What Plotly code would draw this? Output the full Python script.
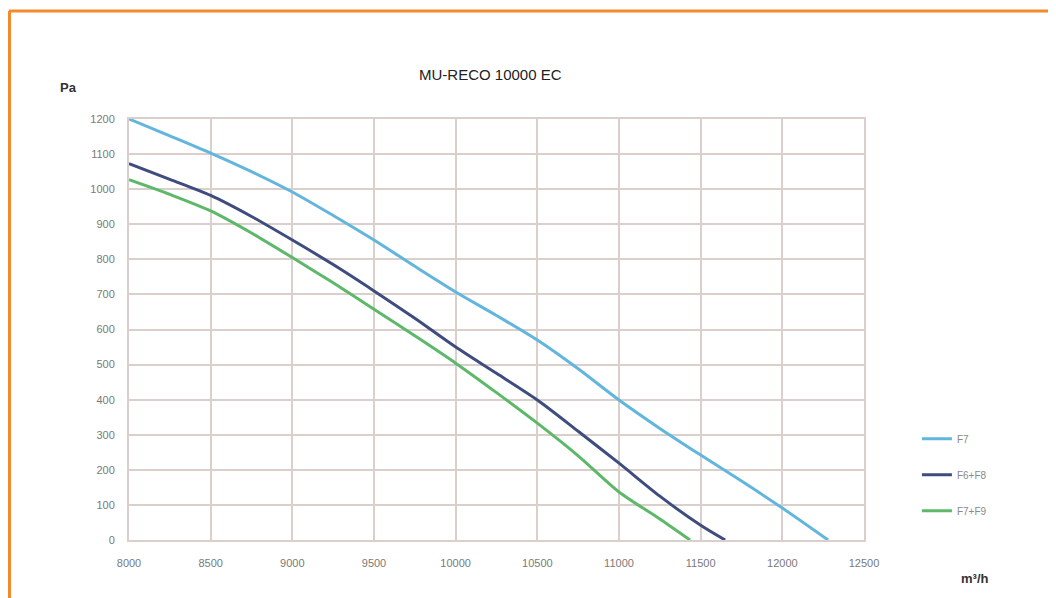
import plotly.graph_objects as go

# Data (airflow m³/h vs pressure Pa)
x_f7 = [8000, 8250, 8500, 8750, 9000, 9250, 9500, 9750, 10000, 10250, 10500, 10750, 11000, 11250, 11500, 11750, 12000, 12280]
y_f7 = [1200, 1152, 1103, 1050, 992, 925, 855, 780, 707, 640, 570, 488, 399, 318, 242, 168, 91, 0]

x_f6f8 = [8000, 8250, 8500, 8750, 9000, 9250, 9500, 9750, 10000, 10250, 10500, 10750, 11000, 11250, 11500, 11650]
y_f6f8 = [1073, 1028, 982, 922, 855, 785, 710, 632, 550, 475, 399, 310, 219, 125, 42, 0]

x_f7f9 = [8000, 8250, 8500, 8750, 9000, 9250, 9500, 9750, 10000, 10250, 10500, 10750, 11000, 11250, 11435]
y_f7f9 = [1027, 985, 938, 875, 805, 733, 658, 582, 504, 420, 333, 240, 137, 60, 0]

series_names = ["F7", "F6+F8", "F7+F9"]
x_ticks = [8000, 8500, 9000, 9500, 10000, 10500, 11000, 11500, 12000, 12500]
y_ticks = [0, 100, 200, 300, 400, 500, 600, 700, 800, 900, 1000, 1100, 1200]

colors = ["#62b6dd", "#3e4d7e", "#5db86a"]

fig = go.Figure()
for i, (xs, ys) in enumerate([(x_f7, y_f7), (x_f6f8, y_f6f8), (x_f7f9, y_f7f9)]):
    fig.add_trace(go.Scatter(
        x=xs, y=ys, mode="lines", name=series_names[i],
        line=dict(color=colors[i], width=3, shape="spline", smoothing=0.8),
        legendgroup=series_names[i],
    ))

grid_color = "#dbcfcb"
fig.update_layout(
    width=1056, height=598,
    margin=dict(l=121, r=200, t=111, b=66),
    paper_bgcolor="white", plot_bgcolor="white",
    font=dict(family="Liberation Sans, Arial, sans-serif", color="#7a7a7a", size=11),
    showlegend=True,
    legend=dict(
        x=1.072, y=0.275, xanchor="left", yanchor="top",
        font=dict(size=10, color="#8a8a8a"),
        tracegroupgap=17, itemwidth=30,
        bgcolor="rgba(0,0,0,0)",
    ),
    xaxis=dict(
        range=[8000, 12500], tickvals=x_ticks, ticktext=[str(v) for v in x_ticks],
        showgrid=True, gridcolor=grid_color, gridwidth=2,
        showline=True, linecolor=grid_color, linewidth=2, mirror=True,
        zeroline=False, ticks="", ticklabelstandoff=12,
        tickfont=dict(size=11, color="#7a7a7a"),
    ),
    yaxis=dict(
        range=[0, 1200], tickvals=y_ticks, ticktext=[str(v) for v in y_ticks],
        showgrid=True, gridcolor=grid_color, gridwidth=2,
        showline=True, linecolor=grid_color, linewidth=2, mirror=True,
        zeroline=False, ticks="", ticklabelstandoff=10,
        tickfont=dict(size=11, color="#7a7a7a"),
    ),
    annotations=[
        dict(text="MU-RECO 10000 EC", xref="paper", yref="paper",
             x=(490 - 129) / 735, y=(540 - 74) / 421, xanchor="center", yanchor="middle",
             showarrow=False, font=dict(size=15, color="#222222", family="Liberation Sans, Arial, sans-serif")),
        dict(text="<b>Pa</b>", xref="paper", yref="paper",
             x=(68 - 129) / 735, y=(540 - 88) / 421, xanchor="center", yanchor="middle",
             showarrow=False, font=dict(size=13, color="#333333")),
        dict(text="<b>m³/h</b>", xref="paper", yref="paper",
             x=(975 - 129) / 735, y=(540 - 578) / 421, xanchor="center", yanchor="middle",
             showarrow=False, font=dict(size=13, color="#333333")),
    ],
    shapes=[
        dict(type="line", xref="paper", yref="paper",
             x0=(9 - 129) / 735, x1=(1080 - 129) / 735,
             y0=(540 - 11) / 421, y1=(540 - 11) / 421,
             line=dict(color="#f28a2e", width=3)),
        dict(type="line", xref="paper", yref="paper",
             x0=(9.5 - 129) / 735, x1=(9.5 - 129) / 735,
             y0=(540 - 11) / 421, y1=(540 - 620) / 421,
             line=dict(color="#f28a2e", width=3)),
    ],
)

fig.write_html("out.html")
